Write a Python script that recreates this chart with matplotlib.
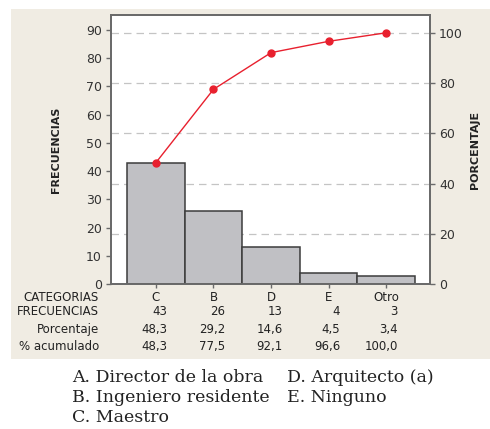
import matplotlib.pyplot as plt
import matplotlib.patches as mpatches
import numpy as np

categorias = ['C', 'B', 'D', 'E', 'Otro']
frecuencias = [43, 26, 13, 4, 3]
porcentaje = ['48,3', '29,2', '14,6', '4,5', '3,4']
acumulado = [48.3, 77.5, 92.1, 96.6, 100.0]
acumulado_txt = ['48,3', '77,5', '92,1', '96,6', '100,0']
leyenda_1 = ['A. Director de la obra', 'B. Ingeniero residente', 'C. Maestro']
leyenda_2 = ['D. Arquitecto (a)', 'E. Ninguno']

beige = '#f0ece3'
spine = '#6a6a6a'

fig = plt.figure(figsize=(4.9, 4.29), dpi=100)
fig.patch.set_facecolor('white')
# beige panel behind the chart
fig.patches.append(mpatches.Rectangle((11/490, 1-359/429), 1-11/490, (359-9)/429,
                                      transform=fig.transFigure, facecolor=beige,
                                      edgecolor='none', zorder=-5))

ax = fig.add_axes([111/490, 1-284/429, 319/490, 269/429])
x = np.arange(len(categorias))
total = sum(frecuencias)
top = 95.3

ax2 = ax.twinx()
ax2.set_ylim(0, top*100/total)
ax2.set_yticks([0, 20, 40, 60, 80, 100])
ax2.yaxis.grid(True, linestyle=(0, (6, 4)), color='#c4c4c4', linewidth=0.9)
ax2.set_axisbelow(True)

ax.set_zorder(2)
ax2.set_zorder(1)
ax.patch.set_visible(False)
ax2.patch.set_visible(True)
ax2.patch.set_facecolor('white')

ax.bar(x, frecuencias, width=1.0, color='#c0c0c4', edgecolor='#3c3c3c', linewidth=1.1)
ax.plot(x, np.array(acumulado)*total/100, color='#e8202e', linewidth=1.0,
        marker='o', markersize=5)

ax.set_xlim(-0.78, 4.76)
ax.set_ylim(0, top)
ax.set_yticks(range(0, 91, 10))
ax.set_xticks(x)
ax.set_xticklabels([])

for a in (ax, ax2):
    for s in a.spines.values():
        s.set_color(spine)
        s.set_linewidth(1.3)
    a.tick_params(colors=spine, labelcolor='#333333', labelsize=9, length=3.5,
                  width=1, pad=3)
ax.tick_params(axis='x', length=3)

ax.set_ylabel('FRECUENCIAS', fontsize=8, fontweight='bold', labelpad=18, color='#222222')
ax2.set_ylabel('PORCENTAJE', fontsize=8, fontweight='bold', labelpad=5, color='#222222')

# table under the axis
tr = ax.get_xaxis_transform()
rows_y = [-0.052, -0.104, -0.171, -0.234]
labels = ['CATEGORIAS', 'FRECUENCIAS', 'Porcentaje', '% acumulado']
for lab, yy in zip(labels, rows_y):
    ax.text(-0.78 - 12/57.6, yy, lab, transform=tr, ha='right', va='center',
            fontsize=8.5, color='#222222')
for i in range(len(categorias)):
    ax.text(i, rows_y[0], categorias[i], transform=tr, ha='center', va='center',
            fontsize=8.5, color='#222222')
    ax.text(i + 0.2, rows_y[1], str(frecuencias[i]), transform=tr, ha='right',
            va='center', fontsize=8.5, color='#222222')
    ax.text(i + 0.2, rows_y[2], porcentaje[i], transform=tr, ha='right',
            va='center', fontsize=8.5, color='#222222')
    ax.text(i + 0.2, rows_y[3], acumulado_txt[i], transform=tr, ha='right',
            va='center', fontsize=8.5, color='#222222')

# caption below the panel
for k, t in enumerate(leyenda_1):
    fig.text(72/490, 1-(377+20*k)/429, t, ha='left', va='center',
             fontsize=12.5, family='DejaVu Serif', color='#222222')
for k, t in enumerate(leyenda_2):
    fig.text(287/490, 1-(377+20*k)/429, t, ha='left', va='center',
             fontsize=12.5, family='DejaVu Serif', color='#222222')

fig.savefig('out.png', dpi=100)
